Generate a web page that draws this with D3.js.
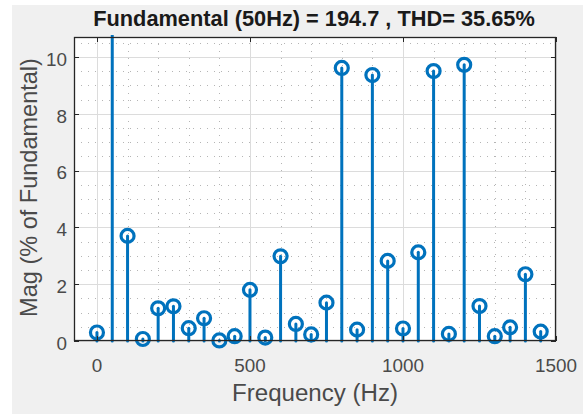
<!DOCTYPE html>
<html><head><meta charset="utf-8">
<script src="https://cdn.jsdelivr.net/npm/d3@7"></script>
<style>html,body{margin:0;padding:0;background:#fff;}svg{display:block;}</style>
</head><body>
<script>
const freqs = [0,50,100,150,200,250,300,350,400,450,500,550,600,650,700,750,800,850,900,950,1000,1050,1100,1150,1200,1250,1300,1350,1400,1450];
const mags  = [0.30,100,3.70,0.07,1.15,1.22,0.45,0.80,0.02,0.17,1.80,0.12,2.98,0.60,0.23,1.35,9.61,0.40,9.36,2.82,0.44,3.12,9.50,0.25,9.72,1.23,0.17,0.48,2.35,0.33];
const xTicks = [0,500,1000,1500];
const yTicks = [0,2,4,6,8,10];
const titleText = "Fundamental (50Hz) = 194.7 , THD= 35.65%";
const xLabel = "Frequency (Hz)";
const yLabel = "Mag (% of Fundamental)";

const W = 587, H = 415;
const L = 74, T = 37, R = 556, B = 341;
const blue = "#0072BD";
const axisCol = "#262626";
const txtCol = "#4a4a4a";
const font = "'Liberation Sans', Arial, Helvetica, sans-serif";

const svg = d3.select("body").append("svg").attr("width", W).attr("height", H);
svg.append("rect").attr("x",12).attr("y",5).attr("width",571).attr("height",409).attr("fill","#f0f0f0");
svg.append("rect").attr("x",L).attr("y",T).attr("width",R-L).attr("height",B-T).attr("fill","#fff");

const x = d3.scaleLinear().domain([-75,1500]).range([L,R]);
const y = d3.scaleLinear().domain([0,10.7]).range([B,T]);

function fit(sel, target){
  const w = sel.node().getComputedTextLength();
  const fs = +sel.attr("font-size");
  sel.attr("font-size", fs*target/w);
  return fs*target/w;
}

const g = svg.append("g");
const xMinor = d3.range(100,1500,100).filter(v=>v%500!==0);
const yMinor = d3.range(0.5,10.7,0.5).filter(v=>v%2!==0);
g.selectAll(".xm").data(xMinor).join("line")
  .attr("x1",d=>Math.round(x(d))+0.5).attr("x2",d=>Math.round(x(d))+0.5).attr("y1",T).attr("y2",B)
  .attr("stroke","#b5b5b5").attr("stroke-width",1).attr("stroke-dasharray","1,6");
g.selectAll(".ym").data(yMinor).join("line")
  .attr("y1",d=>Math.round(y(d))+0.5).attr("y2",d=>Math.round(y(d))+0.5).attr("x1",L).attr("x2",R)
  .attr("stroke","#b5b5b5").attr("stroke-width",1).attr("stroke-dasharray","1,6");
g.selectAll(".xg").data(xTicks).join("line")
  .attr("x1",d=>Math.round(x(d))+0.5).attr("x2",d=>Math.round(x(d))+0.5).attr("y1",T).attr("y2",B)
  .attr("stroke","#dcdcdc").attr("stroke-width",1);
g.selectAll(".yg").data(yTicks).join("line")
  .attr("y1",d=>Math.round(y(d))+0.5).attr("y2",d=>Math.round(y(d))+0.5).attr("x1",L).attr("x2",R)
  .attr("stroke","#dcdcdc").attr("stroke-width",1);

svg.append("clipPath").attr("id","clip").append("rect")
  .attr("x",L).attr("y",T-2).attr("width",R-L).attr("height",B-T+12);
const data = freqs.map((f,i)=>({f, m: mags[i]}));
const sg = svg.append("g").attr("clip-path","url(#clip)");
sg.selectAll(".stem").data(data).join("line")
  .attr("x1",d=>x(d.f)).attr("x2",d=>x(d.f))
  .attr("y1",y(0)).attr("y2",d=>Math.max(y(d.m),T-5))
  .attr("stroke",blue).attr("stroke-width",3).attr("stroke-linecap","round");
sg.selectAll(".mk").data(data.filter(d=>d.m<=10.7)).join("circle")
  .attr("cx",d=>x(d.f)).attr("cy",d=>y(d.m)).attr("r",6.5)
  .attr("fill","none").attr("stroke",blue).attr("stroke-width",3.2);

svg.append("rect").attr("x",L+0.5).attr("y",T+0.5).attr("width",R-L-1).attr("height",B-T-1)
  .attr("fill","none").attr("stroke",axisCol).attr("stroke-width",1.3);
const tl = 5;
xTicks.forEach(v=>{
  const px = Math.round(x(v))+0.5;
  svg.append("line").attr("x1",px).attr("x2",px).attr("y1",B).attr("y2",B-tl).attr("stroke",axisCol);
  svg.append("line").attr("x1",px).attr("x2",px).attr("y1",T).attr("y2",T+tl).attr("stroke",axisCol);
});
yTicks.forEach(v=>{
  const py = Math.round(y(v))+0.5;
  svg.append("line").attr("x1",L).attr("x2",L+tl).attr("y1",py).attr("y2",py).attr("stroke",axisCol);
  svg.append("line").attr("x1",R).attr("x2",R-tl).attr("y1",py).attr("y2",py).attr("stroke",axisCol);
});

const probe = svg.append("text").attr("font-family",font).attr("font-size",20).text("1000");
const tfs = fit(probe, 42); probe.remove();
svg.selectAll(".xt").data(xTicks).join("text")
  .attr("x",d=>x(d)).attr("y",B+31).attr("text-anchor","middle")
  .attr("font-family",font).attr("font-size",tfs).attr("fill",txtCol).text(d=>d);
svg.selectAll(".yt").data(yTicks).join("text")
  .attr("x",L-7).attr("y",d=>y(d)+tfs*0.36+2).attr("text-anchor","end")
  .attr("font-family",font).attr("font-size",tfs).attr("fill",txtCol).text(d=>d);

const xl = svg.append("text").attr("x",315).attr("y",401).attr("text-anchor","middle")
  .attr("font-family",font).attr("font-size",20).attr("fill",txtCol).text(xLabel);
fit(xl, 166);
const yl = svg.append("text").attr("transform",`translate(37,187.5) rotate(-90)`).attr("text-anchor","middle")
  .attr("font-family",font).attr("font-size",20).attr("fill",txtCol).text(yLabel);
fit(yl, 259);
const tt = svg.append("text").attr("x",314).attr("y",26).attr("text-anchor","middle")
  .attr("font-family",font).attr("font-size",20).attr("font-weight","bold").attr("fill","#1a1a1a").text(titleText);
fit(tt, 442);
</script>
</body></html>
